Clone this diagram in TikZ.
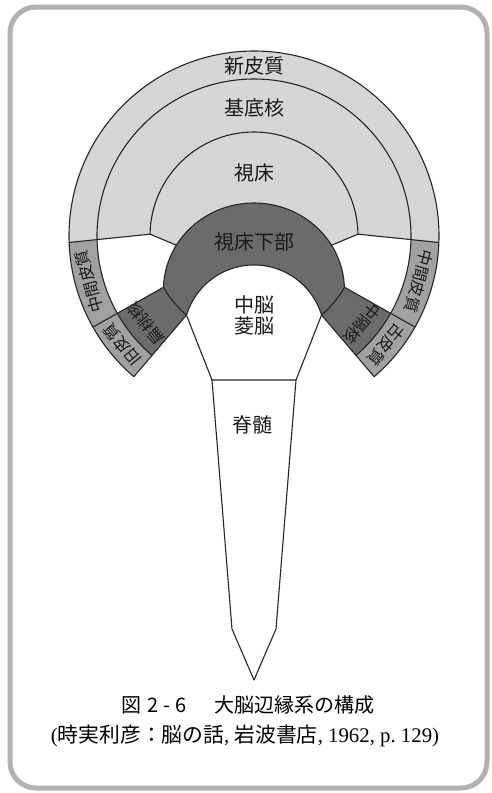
\documentclass[tikz,border=0pt]{standalone}
\usepackage{fontspec}
\newfontfamily\cjk{Noto Sans CJK JP}
\newfontfamily\lserif{Liberation Serif}
\usetikzlibrary{calc}
\begin{document}
\begin{tikzpicture}[x=1pt,y=-1pt,line join=round,
  ln/.style={draw=black!85,line width=1.1pt},
  lightg/.style={fill=black!16},
  bandg/.style={fill=black!37},
  darkg/.style={fill=black!58},
  lbl/.style={font=\cjk\fontsize{20}{24}\selectfont,inner sep=0pt,text=black!90},
  wlbl/.style={font=\cjk\fontsize{16}{19}\selectfont,inner sep=0pt,text=black!90}]
\useasboundingbox (0,0) rectangle (491,793);
\fill[white] (0,0) rectangle (491,793);
\draw[black!30,line width=5pt,rounded corners=26pt] (10,7) rectangle (487,788);
\def\Ra{185}\def\Rb{157}\def\Rc{104}
\coordinate (C) at (254,236);
\coordinate (A) at ($(C)+(178:\Ra)$);
\coordinate (A2) at ($(C)+(2:\Ra)$);
\coordinate (B) at ($(C)+(181:\Rc)$);
\coordinate (B2) at ($(C)+(359:\Rc)$);
\coordinate (D) at (176.4,245.2);
\coordinate (D2) at (331.6,245.2);
\coordinate (W1) at ($(C)+(150.5:\Rc)$);
\coordinate (W2) at ($(C)+(29.5:\Rc)$);
\coordinate (J) at ($(C)+(130.5:\Rc)$);
\coordinate (J2) at ($(C)+(49.5:\Rc)$);
\coordinate (T1) at ($(C)+(130.5:\Ra)$);
\coordinate (T2) at ($(C)+(49.5:\Ra)$);
\coordinate (M1) at ($(C)+(130.5:\Rb)$);
\coordinate (M2) at ($(C)+(49.5:\Rb)$);
\coordinate (S1) at ($(C)+(150.5:\Ra)$);
\coordinate (S2) at ($(C)+(29.5:\Ra)$);
\coordinate (K) at (212,380);
\coordinate (K2) at (296,380);
\coordinate (L) at (232,629);
\coordinate (L2) at (276,629);
\coordinate (Tp) at (254,680);
% fills
\fill[lightg] (A) arc[start angle=178,end angle=362,radius=\Ra] -- (B2) -- (D2) -- (D) -- (B) -- cycle;
\fill[bandg] (A) arc[start angle=178,end angle=130.5,radius=\Ra] -- (M1) arc[start angle=130.5,end angle=178.68,radius=\Rb] -- cycle;
\fill[bandg] (A2) arc[start angle=2,end angle=49.5,radius=\Ra] -- (M2) arc[start angle=49.5,end angle=1.32,radius=\Rb] -- cycle;
\fill[darkg] (J) -- (M1) arc[start angle=130.5,end angle=150.5,radius=\Rb] -- (W1) arc[start angle=150.5,end angle=130.5,radius=\Rc] -- cycle;
\fill[darkg] (J2) -- (M2) arc[start angle=49.5,end angle=29.5,radius=\Rb] -- (W2) arc[start angle=29.5,end angle=49.5,radius=\Rc] -- cycle;
\fill[darkg] (W1) arc[start angle=181.84,end angle=358.16,x radius=90.5,y radius=87] -- (W2) arc[start angle=29.5,end angle=49.5,radius=\Rc] -- (J2) arc[start angle=343.2,end angle=196.8,radius=70.5] -- (J) arc[start angle=130.5,end angle=150.5,radius=\Rc] -- cycle;
% strokes
\draw[ln] (T1) arc[start angle=130.5,end angle=409.5,radius=\Ra];
\draw[ln] (M1) arc[start angle=130.5,end angle=409.5,radius=\Rb];
\draw[ln] (B) arc[start angle=181,end angle=359,radius=\Rc];
\draw[ln] (A) -- (B) -- (D);
\draw[ln] (A2) -- (B2) -- (D2);
\draw[ln] (J) -- (T1);
\draw[ln] (W1) -- (S1);
\draw[ln] (J2) -- (T2);
\draw[ln] (W2) -- (S2);
\draw[ln] (J) arc[start angle=130.5,end angle=150.5,radius=\Rc];
\draw[ln] (W2) arc[start angle=29.5,end angle=49.5,radius=\Rc];
\draw[ln] (W1) arc[start angle=181.84,end angle=358.16,x radius=90.5,y radius=87];
\draw[ln] (J2) arc[start angle=343.2,end angle=196.8,radius=70.5];
\draw[ln] (J) -- (K) -- (K2) -- (J2);
\draw[ln] (K) -- (L) -- (Tp) -- (L2) -- (K2);
% labels
\node[lbl] (shin) at (254,66) {新皮質};
\node[lbl] (kitei) at (254,108) {基底核};
\node[lbl] (shisho) at (254,173) {視床};
\node[lbl] (kabu) at (254,242) {視床下部};
\node[lbl] (chuno) at (254,305) {中脳};
\node[lbl] (ryono) at (254,326) {菱脳};
\node[lbl] (sekizui) at (252,425) {脊髄};
\node[wlbl,rotate=105.4] (chukanL) at ($(C)+(164.6:171)$) {中間皮質};
\node[wlbl,rotate=129.5] (kyuhi) at ($(C)+(140.5:171)$) {旧皮質};
\node[wlbl,rotate=129] (hento) at ($(C)+(141:139)$) {扁桃核};
\node[wlbl,rotate=254.6] (chukanR) at ($(C)+(15.4:171)$) {中間皮質};
\node[wlbl,rotate=230.5] (kohi) at ($(C)+(39.5:171)$) {古皮質};
\node[wlbl,rotate=231] (chukaku) at ($(C)+(39:139)$) {中隔核};
% caption
\node[anchor=west,inner sep=0pt,font=\cjk\fontsize{20}{24}\selectfont] (cap1) at (121,705) {図\hspace{6pt}2\hspace{5pt}-\hspace{5pt}6\hspace{28pt}大脳辺縁系の構成};
\node[inner sep=0pt,font=\lserif\fontsize{20.8}{24}\selectfont] (cap2) at (245,736) {({\cjk 時実利彦：脳の話}, {\cjk 岩波書店}, 1962, p.\ 129)};
\end{tikzpicture}
\end{document}
